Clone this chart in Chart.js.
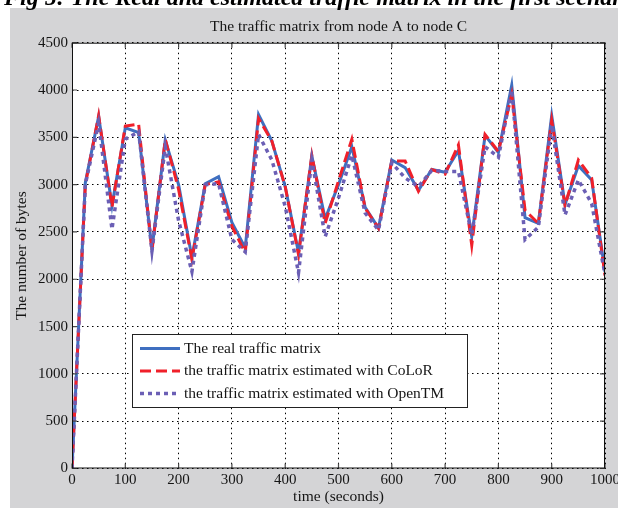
<!DOCTYPE html>
<html>
<head>
<meta charset="utf-8">
<script src="https://cdn.jsdelivr.net/npm/chart.js@4.4.1/dist/chart.umd.min.js"></script>
<style>
  html, body { margin: 0; padding: 0; overflow: hidden; background: #fff; }
  #wrap { width: 618px; height: 508px; position: relative; }
</style>
</head>
<body>
<div id="wrap"><canvas id="tm-chart"></canvas></div>
<script>
// ===== DATA =====
const timeSeconds = [0, 25, 50, 75, 100, 125, 150, 175, 200, 225, 250, 275, 300, 325, 350, 375, 400, 425, 450, 475,
  500, 525, 550, 575, 600, 625, 650, 675, 700, 725, 750, 775, 800, 825, 850, 875, 900, 925, 950, 975, 1000];

const realTraffic = [0, 3020, 3720, 2780, 3600, 3550, 2320, 3470, 3000, 2230, 3010, 3085, 2600, 2330, 3740, 3460, 2980, 2280, 3300, 2640,
  3000, 3400, 2760, 2540, 3260, 3180, 2940, 3160, 3130, 3360, 2450, 3520, 3340, 4050, 2650, 2590, 3730, 2790, 3200, 3050, 2080];

const colorTraffic = [0, 3000, 3730, 2760, 3620, 3640, 2300, 3480, 2950, 2210, 3000, 3030, 2560, 2280, 3700, 3460, 2980, 2260, 3310, 2590,
  3040, 3480, 2750, 2540, 3250, 3250, 2930, 3160, 3110, 3420, 2360, 3530, 3350, 3950, 2730, 2590, 3680, 2780, 3260, 3070, 2040];

const openTmTraffic = [0, 3000, 3650, 2530, 3480, 3560, 2300, 3400, 2620, 2080, 3000, 3010, 2420, 2290, 3530, 3260, 2770, 2070, 3260, 2450,
  2860, 3310, 2700, 2520, 3230, 3070, 2980, 3150, 3140, 3140, 2470, 3400, 3290, 4000, 2420, 2550, 3630, 2680, 3050, 2800, 2050];

const seriesLabels = [
  "The real traffic matrix",
  "the traffic matrix estimated with CoLoR",
  "the traffic matrix estimated with OpenTM"
];

const xTickValues = [0, 100, 200, 300, 400, 500, 600, 700, 800, 900, 1000];
const yTickValues = [0, 500, 1000, 1500, 2000, 2500, 3000, 3500, 4000, 4500];

const chartTitle = "The traffic matrix from node A to node C";
const xTitle = "time (seconds)";
const yTitle = "The number of bytes";
const captionText = "Fig 5: The Real and estimated traffic matrix in the first scenario";

// ===== STYLE =====
const SERIF = '"Liberation Serif", "DejaVu Serif", serif';
const GRAY_BG = "#d4d4d6";
const TEXT = "#151515";

const toPoints = vals => vals.map((v, i) => ({ x: timeSeconds[i], y: v }));

// ===== PLUGINS =====
const figureBackground = {
  id: "figureBackground",
  beforeDraw(chart) {
    const c = chart.ctx;
    c.save();
    c.fillStyle = "#fff";
    c.fillRect(0, 0, chart.width, chart.height);
    c.fillStyle = GRAY_BG;
    c.fillRect(10, 8, chart.width - 10, chart.height - 8);
    // the caption of the paper, cut off by the crop
    c.fillStyle = "#000";
    c.font = "bold italic 24px " + SERIF;
    c.textBaseline = "alphabetic";
    c.textAlign = "left";
    c.fillText(captionText, 4, 5);
    // white plot area
    const a = chart.chartArea;
    c.fillStyle = "#fff";
    c.fillRect(a.left, a.top, a.right - a.left, a.bottom - a.top);
    c.restore();
  }
};

const axesBox = {
  id: "axesBox",
  afterDatasetsDraw(chart) {
    const c = chart.ctx;
    const a = chart.chartArea;
    const xs = chart.scales.x, ys = chart.scales.y;
    c.save();
    c.strokeStyle = "#4a4a4a";
    c.lineWidth = 1.2;
    c.beginPath();
    xTickValues.forEach(v => {
      const px = xs.getPixelForValue(v);
      c.moveTo(px, a.bottom); c.lineTo(px, a.bottom - 5);
      c.moveTo(px, a.top); c.lineTo(px, a.top + 5);
    });
    yTickValues.forEach(v => {
      const py = ys.getPixelForValue(v);
      c.moveTo(a.left, py); c.lineTo(a.left + 5, py);
      c.moveTo(a.right, py); c.lineTo(a.right - 5, py);
    });
    c.stroke();
    c.strokeStyle = "#111";
    c.lineWidth = 1;
    c.strokeRect(a.left + 0.5, a.top + 0.5, a.right - a.left - 1, a.bottom - a.top - 1);
    c.restore();
  }
};

const boxLegend = {
  id: "boxLegend",
  afterDraw(chart) {
    const c = chart.ctx;
    const bx = 132, by = 334, bw = 335, bh = 73;
    c.save();
    c.fillStyle = "#fff";
    c.fillRect(bx, by, bw, bh);
    c.strokeStyle = "#222";
    c.lineWidth = 1;
    c.strokeRect(bx + 0.5, by + 0.5, bw, bh);
    c.font = "15.5px " + SERIF;
    c.textBaseline = "middle";
    c.textAlign = "left";
    chart.data.datasets.forEach((ds, i) => {
      const y = 348.5 + i * 22.5;
      c.strokeStyle = ds.borderColor;
      c.lineWidth = ds.borderWidth;
      c.setLineDash(ds.borderDash || []);
      c.beginPath();
      c.moveTo(140, y);
      c.lineTo(180, y);
      c.stroke();
      c.setLineDash([]);
      c.fillStyle = TEXT;
      c.fillText(ds.label, 184, y);
    });
    c.restore();
  }
};

// ===== CHART =====
const ctx = document.getElementById("tm-chart").getContext("2d");
const tmChart = new Chart(ctx, {
  type: "line",
  data: {
    datasets: [
      {
        label: seriesLabels[0],
        data: toPoints(realTraffic),
        borderColor: "#3f6fc0",
        borderWidth: 3,
        order: 3
      },
      {
        label: seriesLabels[1],
        data: toPoints(colorTraffic),
        borderColor: "#f0202a",
        borderWidth: 3,
        borderDash: [11, 5],
        order: 2
      },
      {
        label: seriesLabels[2],
        data: toPoints(openTmTraffic),
        borderColor: "#6b5fb5",
        borderWidth: 3.5,
        borderDash: [4, 4],
        order: 1
      }
    ]
  },
  options: {
    responsive: true,
    maintainAspectRatio: false,
    animation: false,
    devicePixelRatio: 1,
    layout: { padding: { left: 0, right: 13, top: 0, bottom: 0 } },
    elements: {
      line: { tension: 0, fill: false, borderCapStyle: "butt" },
      point: { radius: 0, hoverRadius: 0 }
    },
    plugins: {
      legend: { display: false },
      tooltip: { enabled: false },
      title: { display: false }
    },
    scales: {
      x: {
        type: "linear",
        min: 0,
        max: 1000,
        afterBuildTicks: s => { s.ticks = xTickValues.map(v => ({ value: v })); },
        afterFit: s => { s.height = 39.5; s.paddingLeft = 0; s.paddingRight = 0; },
        ticks: {
          color: TEXT,
          font: { family: SERIF, size: 15 },
          padding: 3,
          maxRotation: 0,
          autoSkip: false,
          callback: v => String(v)
        },
        grid: { color: "#000", lineWidth: 1, drawTicks: false },
        border: { display: false, dash: [1.5, 3.5] },
        title: {
          display: true,
          text: xTitle,
          color: TEXT,
          font: { family: SERIF, size: 15.5 },
          padding: { top: 0, bottom: 1.7 }
        }
      },
      // top axis only carries the chart title, centred over the plot
      xTop: {
        type: "linear",
        position: "top",
        min: 0,
        max: 1000,
        afterFit: s => { s.height = 42.7; s.paddingLeft = 0; s.paddingRight = 0; },
        ticks: { display: false },
        grid: { display: false, drawTicks: false },
        border: { display: false },
        title: {
          display: true,
          text: chartTitle,
          color: TEXT,
          font: { family: SERIF, size: 15.5 },
          padding: { top: 17.2, bottom: 0 }
        }
      },
      y: {
        type: "linear",
        min: 0,
        max: 4500,
        afterBuildTicks: s => { s.ticks = yTickValues.map(v => ({ value: v })); },
        afterFit: s => { s.width = 72; s.paddingTop = 0; s.paddingBottom = 0; },
        ticks: {
          color: TEXT,
          font: { family: SERIF, size: 15 },
          padding: 4,
          autoSkip: false,
          callback: v => String(v)
        },
        grid: { color: "#000", lineWidth: 1, drawTicks: false },
        border: { display: false, dash: [1.5, 3.5] },
        title: {
          display: true,
          text: yTitle,
          color: TEXT,
          font: { family: SERIF, size: 15.5 },
          padding: { top: 12.7, bottom: 0 }
        }
      }
    }
  },
  plugins: [figureBackground, axesBox, boxLegend]
});
</script>
</body>
</html>
